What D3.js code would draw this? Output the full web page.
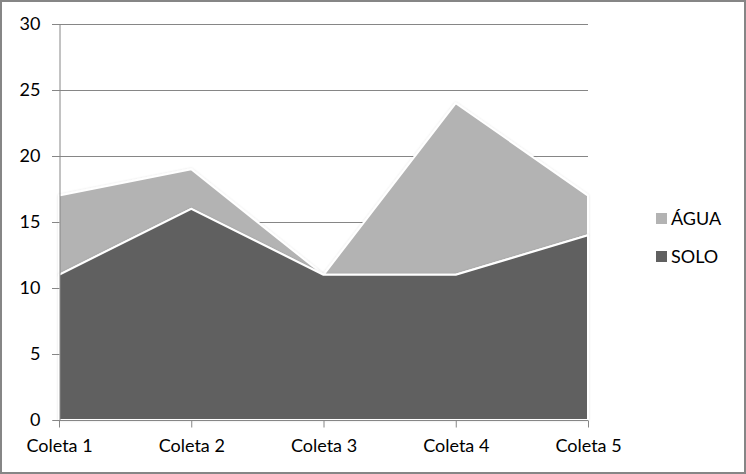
<!DOCTYPE html>
<html>
<head>
<meta charset="utf-8">
<script src="https://cdn.jsdelivr.net/npm/d3@7"></script>
<style>
  html, body { margin: 0; padding: 0; background: #fff; }
  svg { display: block; font-family: Lato, "Open Sans", sans-serif; }
</style>
</head>
<body>
<div id="chart"></div>
<script>
// chart values
var categories = ["Coleta 1", "Coleta 2", "Coleta 3", "Coleta 4", "Coleta 5"];
var solo = [11, 16, 11, 11, 14];
var agua = [6, 3, 0, 13, 3];
var seriesNames = ["SOLO", "ÁGUA"];
var yTicks = [0, 5, 10, 15, 20, 25, 30];

var width = 746, height = 474;
var margin = {top: 24, right: 158, bottom: 54, left: 59};
var colors = {"SOLO": "#606060", "ÁGUA": "#b3b3b3"};

var svg = d3.select("#chart").append("svg")
    .attr("width", width)
    .attr("height", height);

// outer frame
svg.append("rect")
    .attr("x", 1).attr("y", 1)
    .attr("width", width - 2).attr("height", height - 2)
    .attr("fill", "#fff")
    .attr("stroke", "#868686")
    .attr("stroke-width", 2);

var x = d3.scalePoint()
    .domain(categories)
    .range([margin.left, width - margin.right]);

var y = d3.scaleLinear()
    .domain([0, 30])
    .range([height - margin.bottom, margin.top]);

var rows = categories.map(function(c, i) {
    return {cat: c, "SOLO": solo[i], "ÁGUA": agua[i]};
});
var stacked = d3.stack().keys(seriesNames)(rows);

// gridlines
svg.append("g")
    .selectAll("line")
    .data(yTicks.slice(1))
    .enter().append("line")
    .attr("x1", margin.left - 7)
    .attr("x2", width - margin.right)
    .attr("y1", function(d) { return y(d) + 0.5; })
    .attr("y2", function(d) { return y(d) + 0.5; })
    .attr("stroke", "#868686")
    .attr("stroke-width", 1);

// areas
var area = d3.area()
    .x(function(d) { return x(d.data.cat); })
    .y0(function(d) { return y(d[0]); })
    .y1(function(d) { return y(d[1]); });

var defs = svg.append("defs");
var shadow = defs.append("filter").attr("id", "soft")
    .attr("x", "-5%").attr("y", "-5%").attr("width", "110%").attr("height", "110%");
shadow.append("feGaussianBlur").attr("in", "SourceAlpha").attr("stdDeviation", 1.2).attr("result", "b");
shadow.append("feFlood").attr("flood-color", "#000").attr("flood-opacity", 0.12);
shadow.append("feComposite").attr("in2", "b").attr("operator", "in").attr("result", "s");
var merge = shadow.append("feMerge");
merge.append("feMergeNode").attr("in", "s");
merge.append("feMergeNode").attr("in", "SourceGraphic");

svg.append("g")
    .selectAll("path")
    .data(stacked.slice().reverse())
    .enter().append("path")
    .attr("d", area)
    .attr("fill", function(d) { return colors[d.key]; })
    .attr("stroke", "#fff")
    .attr("stroke-width", 2)
    .attr("stroke-linejoin", "round")
    .attr("filter", "url(#soft)");

// y axis
var yAxis = svg.append("g")
    .attr("transform", "translate(" + (margin.left + 0.5) + ",0)")
    .call(d3.axisLeft(y).tickValues(yTicks).tickSize(7).tickPadding(12));
yAxis.select(".domain").attr("stroke", "#868686");
yAxis.selectAll(".tick line").attr("stroke", "#868686");
yAxis.selectAll("text").attr("font-size", 18).attr("fill", "#000")
    .attr("font-family", "Lato, 'Open Sans', sans-serif");

// x axis
var xAxis = svg.append("g")
    .attr("transform", "translate(0," + (y(0) + 0.5) + ")")
    .call(d3.axisBottom(x).tickSize(7).tickSizeOuter(0).tickPadding(12));
xAxis.select(".domain").attr("stroke", "#868686").attr("d", "M" + margin.left + ",0H" + (width - margin.right));
xAxis.selectAll(".tick line").attr("stroke", "#868686");
xAxis.selectAll("text").attr("font-size", 18).attr("fill", "#000")
    .attr("font-family", "Lato, 'Open Sans', sans-serif");

// legend
var legendNames = ["ÁGUA", "SOLO"];
var legend = svg.append("g")
    .selectAll("g")
    .data(legendNames)
    .enter().append("g")
    .attr("transform", function(d, i) { return "translate(656," + (213 + i * 38) + ")"; });
legend.append("rect")
    .attr("width", 11).attr("height", 11)
    .attr("fill", function(d) { return colors[d]; });
legend.append("text")
    .attr("x", 15).attr("y", 12)
    .attr("font-size", 18)
    .text(function(d) { return d; });
</script>
</body>
</html>
